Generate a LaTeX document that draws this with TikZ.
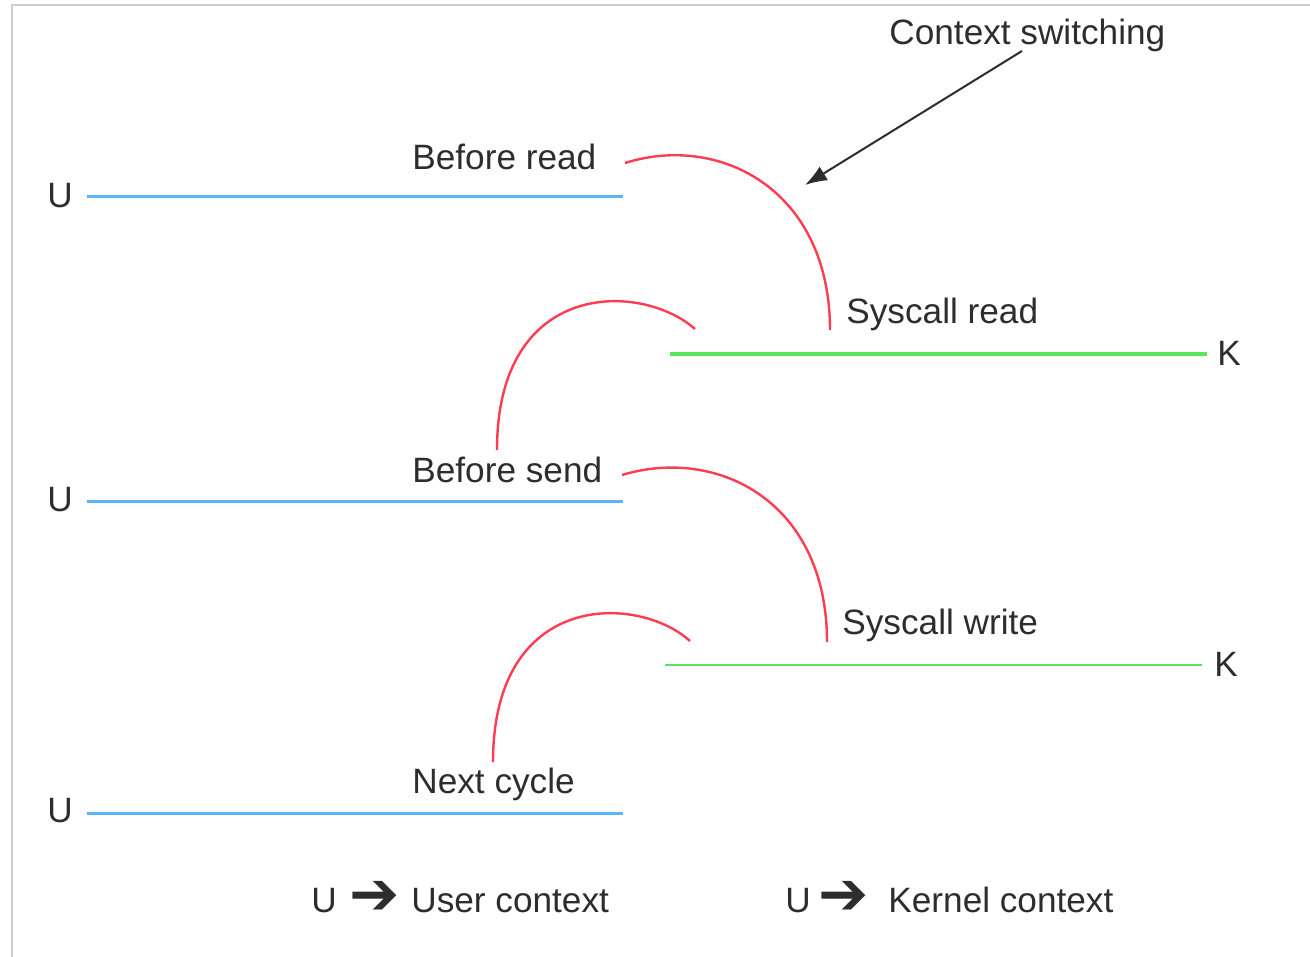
\documentclass[tikz,border=0pt]{standalone}
\usepackage{fontspec}
\setmainfont{Liberation Sans}
\newfontfamily\symfont{DejaVu Sans}
\usetikzlibrary{arrows.meta}
\definecolor{userblue}{RGB}{90,182,250}
\definecolor{kernelgreen}{RGB}{90,230,90}
\definecolor{switchred}{RGB}{255,60,80}
\definecolor{framegrey}{RGB}{205,205,205}
\definecolor{inkgrey}{RGB}{45,45,45}
\begin{document}
\begin{tikzpicture}[x=0.5pt,y=-0.5pt,
  lbl/.style={anchor=base west,inner sep=0pt,font=\fontsize{17.6}{20}\selectfont,text=inkgrey},
  userline/.style={userblue,line width=1.5pt},
  kernline/.style={kernelgreen,line width=2pt},
  switch/.style={switchred,line width=1.2pt},
  pointer/.style={inkgrey,line width=1pt,-{Latex[length=11pt,width=8pt]}},
  legarrow/.style={font=\symfont\fontsize{30}{30}\selectfont}]
\useasboundingbox (0,0) rectangle (1310,957);
% frame
\draw[framegrey,line width=1pt] (12,957) -- (12,5) -- (1310,5);

% user-mode rows
\node[lbl] (u1) at (47,207) {U};
\node[lbl] (u2) at (47,511) {U};
\node[lbl] (u3) at (47,822) {U};
\coordinate (u1a) at (87,197);  \coordinate (u1b) at (623,197);
\coordinate (u2a) at (87,501);  \coordinate (u2b) at (623,501);
\coordinate (u3a) at (87,813);  \coordinate (u3b) at (623,813);
\draw[userline] (u1a) -- (u1b);
\draw[userline] (u2a) -- (u2b);
\draw[userline] (u3a) -- (u3b);

% kernel-mode rows
\node[lbl] (k1) at (1217,365) {K};
\node[lbl] (k2) at (1214,676) {K};
\coordinate (k1a) at (670,354);  \coordinate (k1b) at (1207,354);
\coordinate (k2a) at (665,665);  \coordinate (k2b) at (1202,665);
\draw[kernline] (k1a) -- (k1b);
\draw[kernelgreen,line width=1.3pt] (k2a) -- (k2b);

% step labels
\node[lbl] (br) at (412,170) {Before read};
\node[lbl] (sr) at (846,323) {Syscall read};
\node[lbl] (bs) at (412,482) {Before send};
\node[lbl] (sw) at (842,634) {Syscall write};
\node[lbl] (nc) at (412,793) {Next cycle};

% context switches
\coordinate (s1a) at (625,163); \coordinate (s1b) at (830,330);
\coordinate (s2a) at (695,329); \coordinate (s2b) at (497,450);
\coordinate (s3a) at (622,475); \coordinate (s3b) at (827,642);
\coordinate (s4a) at (690,641); \coordinate (s4b) at (493,762);
\draw[switch] (s1a) .. controls (720,133) and (830,190) .. (s1b);
\draw[switch] (s2a) .. controls (642,282) and (497,278) .. (s2b);
\draw[switch] (s3a) .. controls (718,446) and (827,502) .. (s3b);
\draw[switch] (s4a) .. controls (638,594) and (493,590) .. (s4b);

% annotation
\node[lbl] (cs) at (889,45) {Context switching};
\coordinate (csfrom) at (1022,51);
\coordinate (csto) at (805,185);
\draw[pointer] (csfrom) -- (csto);

% legend
\node[lbl] (lu) at (311,912) {U};
\node[lbl,legarrow] (la) at (349,914) {➔};
\node[lbl] (lt) at (411,912) {User context};
\node[lbl] (ku) at (785,912) {U};
\node[lbl,legarrow] (ka) at (818,914) {➔};
\node[lbl] (kt) at (888,912) {Kernel context};
\end{tikzpicture}
\end{document}
